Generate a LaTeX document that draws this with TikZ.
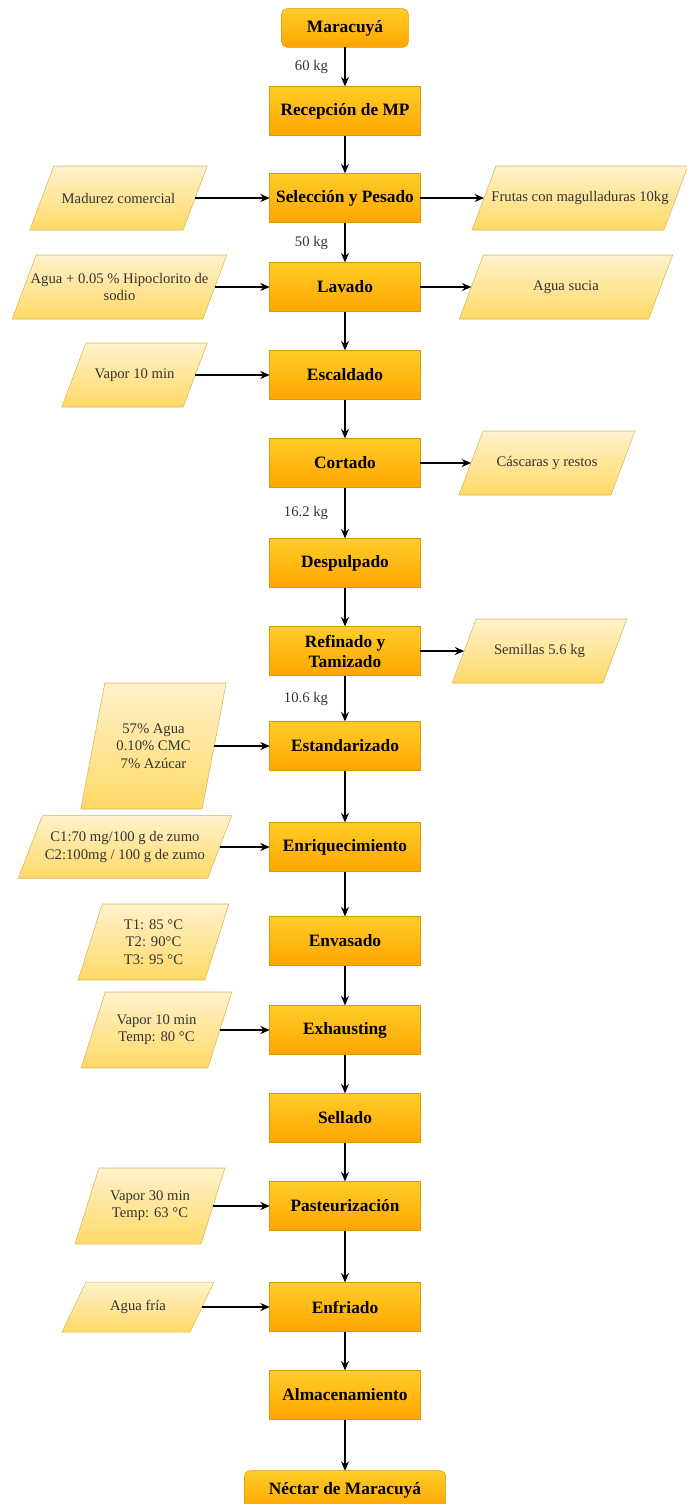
\documentclass[tikz,border=0pt]{standalone}
\usepackage{fontspec}
\setmainfont{Liberation Serif}
\usepackage{xcolor}
\usepackage{tikz}
\usetikzlibrary{shapes, arrows, arrows.meta, positioning, calc, backgrounds}
\definecolor{proctop}{HTML}{FFCD28}
\definecolor{procbot}{HTML}{FFA500}
\definecolor{procline}{HTML}{D79B00}
\definecolor{datatop}{HTML}{FFF2CC}
\definecolor{databot}{HTML}{FFD966}
\definecolor{dataline}{HTML}{D6B656}
\definecolor{txtgray}{HTML}{333333}
\tikzset{
    proc/.style={rectangle, draw=procline, top color=proctop, bottom color=procbot, minimum width=113pt, minimum height=37pt, outer sep=0pt, align=center, font=\bfseries\fontsize{13}{15}\selectfont},
    term/.style={proc, rounded corners=4pt, minimum height=29pt},
    datain/.style={rectangle, minimum height=48pt, outer sep=0pt, align=center, text=txtgray, font=\fontsize{11}{13}\selectfont},
    databox/.style={draw=dataline, top color=datatop, bottom color=databot},
    weight/.style={left=9pt, text=txtgray, font=\fontsize{11}{13}\selectfont},
    arrow/.style={->, >={Stealth[length=7pt, width=6pt]}, line width=0.9pt}
}
\begin{document}
\begin{tikzpicture}[x=0.75pt, y=-0.75pt]
    \useasboundingbox (0,0) rectangle (686,1504);

    % Main process line
    \node[term, minimum width=95pt] (maracuya) at (345, 28) {Maracuyá};
    \node[proc] (recepcion) at (345, 111) {Recepción de MP};
    \node[proc] (seleccion) at (345, 198) {Selección y Pesado};
    \node[proc] (lavado) at (345, 287) {Lavado};
    \node[proc] (escaldado) at (345, 375) {Escaldado};
    \node[proc] (cortado) at (345, 463) {Cortado};
    \node[proc] (despulpado) at (345, 563) {Despulpado};
    \node[proc] (refinado) at (345, 651) {Refinado y\\Tamizado};
    \node[proc] (estandar) at (345, 746) {Estandarizado};
    \node[proc] (enriq) at (345, 847) {Enriquecimiento};
    \node[proc] (envasado) at (345, 941) {Envasado};
    \node[proc] (exhausting) at (345, 1030) {Exhausting};
    \node[proc] (sellado) at (345, 1118) {Sellado};
    \node[proc] (pasteur) at (345, 1206) {Pasteurización};
    \node[proc] (enfriado) at (345, 1307) {Enfriado};
    \node[proc] (almacen) at (345, 1395) {Almacenamiento};
    \node[term, minimum width=151pt] (nectar) at (345, 1490) {Néctar de Maracuyá};

    % Inputs and outputs
    \node[datain, minimum width=115pt] (madurez) at (118.5, 198) {Madurez comercial};
    \node[datain, minimum width=144pt] (frutas) at (580, 198) {Frutas con magulladuras 10kg};
    \node[datain, minimum width=143pt] (aguahip) at (119.5, 287) {Agua + 0.05 \% Hipoclorito de\\sodio};
    \node[datain, minimum width=142pt] (aguasucia) at (566, 287) {Agua sucia};
    \node[datain, minimum width=91pt] (vapor1) at (134.5, 375) {Vapor 10 min};
    \node[datain, minimum width=114pt] (cascaras) at (547, 463) {Cáscaras y restos};
    \node[datain, minimum width=113pt] (semillas) at (539.5, 651) {Semillas 5.6 kg};
    \node[datain, minimum width=91pt, minimum height=94.5pt] (aditivos) at (153.5, 746) {57\% Agua\\0.10\% CMC\\7\% Azúcar};
    \node[datain, minimum width=142pt, minimum height=47pt] (vitc) at (125, 847) {C1:70 mg/100 g de zumo\\C2:100mg / 100 g de zumo};
    \node[datain, minimum width=95pt, minimum height=57pt] (temps) at (153.5, 942) {T1: 85 °C\\T2: 90°C\\T3: 95 °C};
    \node[datain, minimum width=95pt, minimum height=57pt] (vapor2) at (156.5, 1030) {Vapor 10 min\\Temp: 80 °C};
    \node[datain, minimum width=94.5pt, minimum height=57pt] (vapor3) at (150, 1206) {Vapor 30 min\\Temp: 63 °C};
    \node[datain, minimum width=96pt, minimum height=37.5pt] (aguafria) at (138, 1307) {Agua fría};

    % Parallelograms behind the texts
    \begin{scope}[on background layer]
        \foreach \n in {madurez, frutas, aguahip, aguasucia, vapor1, cascaras, semillas, aditivos, vitc, temps, vapor2, vapor3, aguafria}
            \path[databox] ([xshift=-9pt]\n.south west) -- ([xshift=9pt]\n.north west) -- ([xshift=9pt]\n.north east) -- ([xshift=-9pt]\n.south east) -- cycle;
    \end{scope}

    % Connections
    \draw[arrow] (maracuya) -- node[weight] {60 kg} (recepcion);
    \draw[arrow] (recepcion) -- (seleccion);
    \draw[arrow] (seleccion) -- node[weight] {50 kg} (lavado);
    \draw[arrow] (lavado) -- (escaldado);
    \draw[arrow] (escaldado) -- (cortado);
    \draw[arrow] (cortado) -- node[weight] {16.2 kg} (despulpado);
    \draw[arrow] (despulpado) -- (refinado);
    \draw[arrow] (refinado) -- node[weight] {10.6 kg} (estandar);
    \draw[arrow] (estandar) -- (enriq);
    \draw[arrow] (enriq) -- (envasado);
    \draw[arrow] (envasado) -- (exhausting);
    \draw[arrow] (exhausting) -- (sellado);
    \draw[arrow] (sellado) -- (pasteur);
    \draw[arrow] (pasteur) -- (enfriado);
    \draw[arrow] (enfriado) -- (almacen);
    \draw[arrow] (almacen) -- (nectar);

    \draw[arrow] (madurez) -- (seleccion);
    \draw[arrow] (seleccion) -- (frutas);
    \draw[arrow] (aguahip) -- (lavado);
    \draw[arrow] (lavado) -- (aguasucia);
    \draw[arrow] (vapor1) -- (escaldado);
    \draw[arrow] (cortado) -- (cascaras);
    \draw[arrow] (refinado) -- (semillas);
    \draw[arrow] (aditivos) -- (estandar);
    \draw[arrow] (vitc) -- (enriq);
    \draw[arrow] (vapor2) -- (exhausting);
    \draw[arrow] (vapor3) -- (pasteur);
    \draw[arrow] (aguafria) -- (enfriado);
\end{tikzpicture}
\end{document}
